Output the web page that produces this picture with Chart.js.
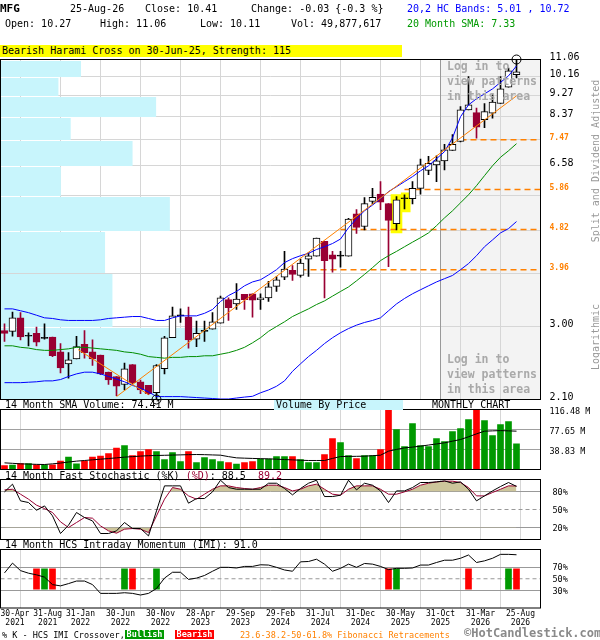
<!DOCTYPE html>
<html><head><meta charset="utf-8">
<script src="https://cdn.jsdelivr.net/npm/chart.js@4.4.1/dist/chart.umd.min.js"></script>
<style>
html,body{margin:0;padding:0;background:#fff;}
#wrap{position:relative;width:600px;height:640px;overflow:hidden;font-family:'DejaVu Sans Mono',monospace;font-size:10px;color:#000;}
.t{position:absolute;white-space:pre;line-height:12px;}
canvas{position:absolute;left:0;}
.login{position:absolute;left:447px;color:#a9a9a9;font-weight:bold;font-size:11.5px;line-height:15px;white-space:pre;}
.rot{position:absolute;color:#999;white-space:pre;transform:translate(-50%,-50%) rotate(-90deg);font-size:10px;}
</style></head><body><div id="wrap">
<canvas id="cMain" width="600" height="410" style="top:0"></canvas>
<canvas id="cVol" width="600" height="80" style="top:400px"></canvas>
<canvas id="cSto" width="600" height="80" style="top:470px"></canvas>
<canvas id="cImi" width="600" height="100" style="top:540px"></canvas>

<div class="t" style="left:0;top:3px;font-weight:bold;font-size:11px">MFG</div>
<div class="t" style="left:70px;top:3px">25-Aug-26</div>
<div class="t" style="left:145px;top:3px">Close: 10.41</div>
<div class="t" style="left:251px;top:3px">Change: -0.03 {-0.3 %}</div>
<div class="t" style="left:407px;top:3px;color:#0000ff">20,2 HC Bands: 5.01 , 10.72</div>
<div class="t" style="left:5px;top:18px">Open: 10.27</div>
<div class="t" style="left:100px;top:18px">High: 11.06</div>
<div class="t" style="left:200px;top:18px">Low: 10.11</div>
<div class="t" style="left:291px;top:18px">Vol: 49,877,617</div>
<div class="t" style="left:407px;top:18px;color:#009900">20 Month SMA: 7.33</div>
<div class="t" style="left:0;top:45px;width:402px;height:12px;background:#ffff00;padding-left:2px;box-sizing:border-box">Bearish Harami Cross on 30-Jun-25, Strength: 115</div>

<div class="login" style="top:59px">Log in to
view patterns
in this area</div>
<div class="login" style="top:352px">Log in to
view patterns
in this area</div>
<div class="rot" style="left:595px;top:161px">Split and Dividend Adjusted</div>
<div class="rot" style="left:595px;top:337px">Logarithmic</div>

<div class="t" style="left:5px;top:399px">14 Month SMA Volume: 74.41 M</div>
<div class="t" style="left:274px;top:400px;width:129px;height:10px;line-height:10px;background:#c8f5fc;padding-left:2px;box-sizing:border-box">Volume By Price</div>
<div class="t" style="left:432px;top:399px">MONTHLY CHART</div>
<div class="t" style="left:5px;top:470px">14 Month Fast Stochastic (%K) <span style="color:#990033">(%D)</span>: 88.5  <span style="color:#990033">89.2</span></div>
<div class="t" style="left:5px;top:539px">14 Month HCS Intraday Momentum (IMI): 91.0</div>

<div class="t" style="left:2px;top:629px;font-size:8.5px">% K - HCS IMI Crossover,</div>
<div class="t" style="left:125px;top:630px;width:39px;height:9px;line-height:9px;background:#009900;color:#fff;font-weight:bold;font-size:8.5px;text-align:center">Bullish</div>
<div class="t" style="left:175px;top:630px;width:39px;height:9px;line-height:9px;background:#ff0000;color:#fff;font-weight:bold;font-size:8.5px;text-align:center">Bearish</div>
<div class="t" style="left:240px;top:629px;font-size:8.5px;color:#ff8000">23.6-38.2-50-61.8% Fibonacci Retracements</div>
<div class="t" style="left:464px;top:626px;font-size:12px;font-weight:bold;color:#8a8a8a;line-height:14px">©HotCandlestick.com</div>
</div>
<script>
// ---------------- data ----------------
const opens  = [2.94,2.93,3.13,2.86,2.90,2.83,2.85,2.65,2.50,2.56, 2.75,2.65,2.61,2.40,2.35,2.26,2.49,2.29,2.25,2.17, 2.44,2.84,3.16,3.14,2.82,2.93,2.96,3.05,3.42,3.35, 3.51,3.52,3.42,3.45,3.65,3.82,3.95,3.85,4.17,4.23, 4.55,4.26,4.23,4.23,5.20,4.89,5.53,5.73,5.47,4.96, 5.60,5.60,5.89,6.43,6.61,6.74,7.09,7.41,8.65,8.53, 8.24,8.51,8.92,9.66,10.27];
const highs  = [3.04,3.22,3.21,2.91,2.99,3.04,2.85,2.76,2.64,2.86, 2.94,2.81,2.61,2.40,2.35,2.51,2.49,2.31,2.25,2.49, 2.86,3.30,3.27,3.30,3.08,3.08,3.21,3.48,3.45,3.70, 3.51,3.52,3.52,3.74,3.83,4.33,4.04,4.17,4.30,4.62, 4.55,4.33,4.33,5.09,5.31,5.63,5.89,6.09,5.47,5.66, 5.71,6.09,6.80,6.89,6.91,7.31,7.66,8.79,10.18,8.72, 8.92,9.31,10.18,10.61,11.06];
const lows   = [2.79,2.86,2.81,2.73,2.73,2.82,2.59,2.39,2.33,2.56, 2.57,2.48,2.37,2.26,2.14,2.20,2.27,2.16,2.15,2.10, 2.38,2.84,3.06,2.70,2.72,2.79,2.96,3.05,3.09,3.26, 3.26,3.14,3.26,3.39,3.56,3.77,3.76,3.82,3.83,4.23, 3.45,3.91,4.01,4.23,4.73,4.81,5.46,5.31,4.02,4.81, 5.33,5.46,5.73,6.30,6.09,6.45,7.09,7.39,8.65,7.53, 7.93,8.30,8.92,9.66,10.11];
const closes = [2.90,3.13,2.85,2.86,2.78,2.84,2.60,2.45,2.55,2.72, 2.64,2.56,2.38,2.31,2.24,2.44,2.28,2.20,2.16,2.48, 2.84,3.16,3.16,2.81,2.90,2.94,3.07,3.45,3.29,3.43, 3.42,3.41,3.45,3.64,3.77,3.97,3.87,4.09,4.24,4.62, 4.14,4.17,4.23,5.07,4.87,5.47,5.64,5.51,5.04,5.57, 5.60,5.89,6.61,6.66,6.74,7.11,7.31,8.65,8.86,7.95, 8.57,8.98,9.58,10.47,10.41];
const upperBand = [3.27,3.27,3.24,3.21,3.17,3.13,3.12,3.10,3.09,3.09, 3.09,3.09,3.10,3.12,3.13,3.14,3.15,3.15,3.12,3.09, 3.09,3.13,3.16,3.16,3.16,3.20,3.26,3.39,3.49,3.56, 3.66,3.73,3.77,3.86,3.96,4.10,4.18,4.24,4.29,4.37, 4.43,4.50,4.60,4.86,5.08,5.28,5.43,5.60,5.80,5.94, 6.09,6.24,6.42,6.58,6.81,7.05,7.54,8.36,8.86,9.13, 9.35,9.58,9.89,10.21,10.72];
const lowerBand = [2.28,2.28,2.28,2.285,2.29,2.30,2.30,2.315,2.35,2.38, 2.40,2.40,2.38,2.35,2.32,2.29,2.25,2.22,2.18,2.13, 2.13,2.13,2.13,2.125,2.12,2.115,2.11,2.105,2.105,2.115, 2.125,2.133,2.17,2.20,2.24,2.30,2.41,2.50,2.59,2.67, 2.76,2.84,2.91,2.97,3.02,3.06,3.09,3.13,3.24,3.35, 3.44,3.52,3.59,3.66,3.73,3.79,3.85,3.96,4.08,4.24, 4.43,4.58,4.74,4.84,5.01];
const sma20 = [2.73,2.73,2.71,2.70,2.68,2.67,2.67,2.68,2.69,2.71, 2.71,2.70,2.69,2.68,2.67,2.65,2.64,2.62,2.59,2.58, 2.57,2.58,2.58,2.59,2.59,2.60,2.60,2.62,2.64,2.67, 2.71,2.77,2.84,2.93,3.00,3.07,3.15,3.21,3.27,3.34, 3.40,3.48,3.56,3.64,3.75,3.87,4.00,4.14,4.24,4.33, 4.43,4.53,4.63,4.74,4.91,5.10,5.28,5.49,5.71,5.97, 6.27,6.58,6.86,7.08,7.33];
const volumes = [7.8,8.4,11.6,11.6,9.1,9.1,9.1,16.2,23.9,11.0, 16.2,23.9,25.9,31.0,41.4,46.6,27.2,34.9,38.8,34.9, 19.4,33.0,15.5,34.9,13.6,23.3,19.4,15.5,13.6,10.4, 13.6,15.5,20.0,20.0,25.2,25.2,25.2,19.4,13.6,13.6, 29.1,60.2,52.4,27.2,21.4,27.2,27.2,38.8,116.48,77.6, 44.6,89.3,46.6,44.6,60.2,54.3,73.8,79.6,97.0,116.0, 95.1,66.0,87.3,93.2,49.9];
const volSma = [12.9,12.0,11.0,10.5,10.0,9.7,11.0,12.5,14.5,16.2, 17.5,18.8,20.0,21.3,22.6,24.0,25.0,26.0,26.8,27.2, 27.6,28.0,28.4,28.8,29.1,28.8,28.3,27.8,25.0,22.6, 22.0,21.5,21.0,20.7,20.0,19.3,18.7,18.0,17.5,17.5, 17.5,21.5,25.2,25.4,25.6,25.9,26.8,27.8,35.6,39.0, 42.0,43.5,45.3,47.5,49.6,51.8,55.0,58.2,63.5,69.2, 74.4,75.0,75.5,75.0,74.41];
const stochK = [79.4,92.2,64.4,61.6,48.8,56.0,39.4,10.0,23.8,45.0, 36.6,31.0,10.0,10.0,14.4,28.3,18.3,18.3,6.0,47.7, 89.4,89.4,89.4,60.5,68.3,68.3,79.4,98.8,86.6,83.8, 83.8,83.8,83.8,93.8,93.8,85.0,74.4,85.0,93.8,98.8, 71.6,71.6,73.8,98.8,82.7,93.8,90.5,81.0,61.6,81.0, 81.0,86.6,95.0,95.0,96.0,97.7,93.8,96.0,83.8,64.4, 72.7,81.0,88.3,95.0,88.5];
const stochD = [82.7,83.8,75.5,67.2,57.2,51.6,45.0,29.4,20.0,28.3, 36.6,35.5,22.7,14.4,10.5,17.2,18.3,17.2,11.6,39.4, 67.2,86.6,83.8,72.7,67.2,75.5,83.8,89.4,89.4,86.6, 85.0,83.8,86.6,90.5,90.5,86.6,81.0,83.8,89.4,92.2, 83.8,75.5,73.8,83.8,89.4,89.4,89.4,83.8,75.5,75.5, 79.4,83.8,90.5,93.8,96.0,97.2,97.2,95.0,86.6,72.7, 72.7,78.3,83.8,89.4,89.2];
const imi = [60.0,76.7,63.9,59.5,56.7,52.8,40.0,37.8,41.7,46.1, 46.1,40.0,25.0,25.0,25.0,26.1,25.0,22.2,25.0,33.3, 51.1,61.1,61.1,48.9,51.1,55.6,62.8,69.5,69.5,68.4, 71.1,71.1,73.9,73.4,69.5,65.0,62.8,78.9,79.5,83.4, 75.0,62.8,67.8,75.0,69.5,76.1,75.0,71.1,65.6,67.8, 67.8,68.4,73.4,73.4,77.8,81.7,81.7,85.0,90.6,77.8, 80.6,85.0,91.7,91.7,91.0];
const bullishIdx = [5,15,19,49,63];
const bearishIdx = [4,6,16,48,58,64];
const crossRange = [32,67];
const patternIdx = [49,50];
const fibLevels = [7.47,5.86,4.82,3.96];
const fibStart  = [57,50,42,37];
const trendUpX = [14,64],  trendUpY = [2.13,9.26];
const trendDnX = [9.2,18], trendDnY = [2.68,2.15];
const priceGrid   = [11.06,10.16,9.27,8.37,7.47,6.58,5.68,4.79,3.89,3.00,2.10];
const priceLabels = ['11.06','10.16','9.27','8.37','7.47','6.58','','','','3.00','2.10'];
const vbpVolume = [114,68,267,93,219,73,295,163,178,393]; // per price bin, top to bottom
const volTicks = [38.83,77.65,116.48];
const stoTicks = [20,50,80];
const imiTicks = [30,50,70];
const gridX = [4.5,9.5,14.5,19.5,24.5,29.5,34.5,39.5,44.5,49.5,54.5,59.5,64.5];
const labelX = [-0.5].concat(gridX);
const xTickLabels = [['      30-Apr','      2021'],['   31-Aug','   2021'],['31-Jan','2022'],['30-Jun','2022'],['30-Nov','2022'],['28-Apr','2023'],['29-Sep','2023'],['29-Feb','2024'],['31-Jul','2024'],['31-Dec','2024'],['30-May','2025'],['31-Oct','2025'],['31-Mar','2026'],['25-Aug','2026']];
const loginStart = 54.5;

// ---------------- helpers ----------------
const FONT = "'DejaVu Sans Mono', monospace";
const MAROON = '#990033';
Chart.defaults.font.family = FONT;
const idx = opens.map((_, i) => i);
const up = i => closes[i] >= opens[i];
const doji = i => Math.abs(closes[i] - opens[i]) / opens[i] < 0.004;
const pts = arr => arr.map((v, i) => ({x: i, y: v}));
const XMIN = -0.5, XMAX = 67;

function xScale(extra) {
  return Object.assign({
    type: 'linear', min: XMIN, max: XMAX, offset: false, position: 'bottom',
    afterBuildTicks: s => { s.ticks = gridX.map(v => ({value: v})); },
    afterFit: s => { s.height = 0; s.paddingLeft = 0; s.paddingRight = 0; },
    ticks: {display: false},
    grid: {color: '#d6d6d6', drawTicks: false, lineWidth: 1},
    border: {display: false}
  }, extra || {});
}
function yRight(extra) {
  return Object.assign({
    position: 'right',
    afterFit: s => { s.width = 59.5; s.paddingTop = 0; s.paddingBottom = 0; },
    border: {display: false}
  }, extra);
}
const frame = {id: 'frame', afterDraw(c) {
  const a = c.chartArea, ctx = c.ctx;
  ctx.save(); ctx.strokeStyle = '#000'; ctx.lineWidth = 1;
  ctx.strokeRect(a.left, a.top, a.right - a.left, a.bottom - a.top);
  ctx.restore();
}};
const baseOpts = {
  responsive: false, animation: false, devicePixelRatio: 1, events: [],
  plugins: {legend: {display: false}, tooltip: {enabled: false}}
};
function pad(top, bottom) {
  return {autoPadding: false, padding: {left: 0.5, top: top, bottom: bottom, right: 0}};
}
function hline(v, color) {
  return {type: 'line', data: [{x: XMIN, y: v}, {x: XMAX, y: v}], borderColor: color || '#999',
    borderWidth: 1, borderDash: [4, 3], pointRadius: 0, order: 8};
}

// ---------------- main price chart ----------------
const mainDeco = {id: 'mainDeco',
  beforeDraw(c) {
    const a = c.chartArea, ctx = c.ctx, gx = c.scales.x.getPixelForValue(loginStart);
    ctx.save(); ctx.fillStyle = '#f3f3f3';
    ctx.fillRect(gx, a.top, a.right - gx, a.bottom - a.top); ctx.restore();
  },
  beforeDatasetsDraw(c) {
    const a = c.chartArea, ctx = c.ctx, ys = c.scales.y, xv = c.scales.xv, xs = c.scales.x;
    ctx.save();
    ctx.fillStyle = '#c8f5fc';
    for (let j = 0; j < vbpVolume.length; j++) {
      const yT = ys.getPixelForValue(priceGrid[j]), yB = ys.getPixelForValue(priceGrid[j + 1]);
      const x1 = xv.getPixelForValue(vbpVolume[j]);
      ctx.fillRect(a.left, Math.round(yT) + 1, x1 - a.left, Math.round(yB) - Math.round(yT) - 1);
    }
    const gx = xs.getPixelForValue(loginStart);
    ctx.strokeStyle = '#999'; ctx.lineWidth = 1;
    ctx.beginPath(); ctx.moveTo(gx, a.top); ctx.lineTo(gx, a.bottom); ctx.stroke();
    ctx.restore();
  }
};
const iMax = highs.indexOf(Math.max(...highs));
const iMin = lows.indexOf(Math.min(...lows));
const mainDatasets = [
  {type: 'line', data: [{x: iMax, y: highs[iMax]}, {x: iMin, y: lows[iMin]}], showLine: false,
   pointRadius: 4.5, pointBorderColor: '#000', pointBackgroundColor: 'rgba(0,0,0,0)', pointBorderWidth: 1, clip: false, order: 0},
  {type: 'line', data: trendUpX.map((x, k) => ({x, y: trendUpY[k]})), borderColor: '#ff8000', borderWidth: 1, pointRadius: 0, order: 1},
  {type: 'line', data: trendDnX.map((x, k) => ({x, y: trendDnY[k]})), borderColor: '#ff8000', borderWidth: 1, pointRadius: 0, order: 1},
  {type: 'line', data: pts(upperBand), borderColor: '#0000ff', borderWidth: 1, pointRadius: 0, order: 2},
  {type: 'line', data: pts(lowerBand), borderColor: '#0000ff', borderWidth: 1, pointRadius: 0, order: 2},
  {type: 'line', data: pts(sma20), borderColor: '#008c00', borderWidth: 1, pointRadius: 0, order: 2},
  {type: 'bar', data: idx.map(i => ({x: i, y: [Math.min(opens[i], closes[i]), Math.max(opens[i], closes[i])]})),
   backgroundColor: idx.map(i => up(i) ? (doji(i) ? '#000' : '#fff') : MAROON),
   borderColor: idx.map(i => up(i) ? '#000' : MAROON), borderWidth: 1, borderSkipped: false,
   barThickness: 7, minBarLength: 1, grouped: false, order: 3},
  {type: 'bar', data: idx.map(i => ({x: i, y: [lows[i], highs[i]]})),
   backgroundColor: idx.map(i => up(i) ? '#000' : MAROON), borderWidth: 0,
   barThickness: 1, grouped: false, order: 4},
];
fibLevels.forEach((lv, j) => mainDatasets.push({type: 'line',
  data: [{x: fibStart[j], y: lv}, {x: XMAX, y: lv}], borderColor: '#ff8000', borderWidth: 1.5,
  borderDash: [6, 4], pointRadius: 0, order: 6}));
mainDatasets.push({type: 'bar', data: [{x: patternIdx[0], y: [lows[patternIdx[0]] * 0.985, highs[patternIdx[0]] * 1.01]}],
  backgroundColor: '#ffff00', barThickness: 11, grouped: false, order: 9});
mainDatasets.push({type: 'bar', data: [{x: patternIdx[1] + 0.15, y: [lows[patternIdx[1]] * 0.985, highs[patternIdx[1]] * 1.01]}],
  backgroundColor: '#ffff00', barThickness: 9, grouped: false, order: 10});

const allPriceTicks = priceGrid.concat(fibLevels.filter(v => !priceGrid.includes(v)));
new Chart(document.getElementById('cMain'), {
  type: 'bar',
  data: {datasets: mainDatasets},
  options: Object.assign({}, baseOpts, {
    layout: pad(59.5, 10.5),
    scales: {
      x: xScale(),
      xv: {type: 'linear', min: 0, max: 1000, position: 'top', ticks: {display: false},
           grid: {display: false}, border: {display: false}, afterFit: s => { s.height = 0; s.paddingLeft = 0; s.paddingRight = 0; }},
      y: yRight({
        type: 'logarithmic', min: 2.10, max: 11.06,
        afterBuildTicks: s => { s.ticks = allPriceTicks.map(v => ({value: v})); },
        ticks: {autoSkip: false, padding: 9, labelOffset: -2,
          callback: v => priceGrid.includes(v) ? priceLabels[priceGrid.indexOf(v)] : v.toFixed(2),
          color: ctx => fibLevels.includes(ctx.tick.value) ? '#ff8000' : '#000',
          font: ctx => fibLevels.includes(ctx.tick.value) ? {family: FONT, size: 8, weight: 'bold'} : {family: FONT, size: 10}},
        grid: {drawTicks: false, color: ctx => (ctx.tick && priceGrid.includes(ctx.tick.value)) ? '#d6d6d6' : 'rgba(0,0,0,0)'}
      })
    }
  }),
  plugins: [mainDeco, frame]
});

// ---------------- volume chart ----------------
new Chart(document.getElementById('cVol'), {
  type: 'bar',
  data: {datasets: [
    {type: 'line', data: pts(volSma), borderColor: '#000', borderWidth: 1, pointRadius: 0, order: 0},
    {type: 'bar', data: pts(volumes), backgroundColor: idx.map(i => up(i) ? '#009900' : '#ff0000'),
     barThickness: 6, grouped: false, order: 1}
  ]},
  options: Object.assign({}, baseOpts, {
    layout: pad(9.5, 10.5),
    scales: {
      x: xScale(),
      y: yRight({type: 'linear', min: 0, max: 116.48,
        afterBuildTicks: s => { s.ticks = volTicks.map(v => ({value: v})); },
        ticks: {autoSkip: false, padding: 9, labelOffset: 2, color: '#000', font: {family: FONT, size: 8.5},
          callback: v => v.toFixed(2) + ' M'},
        grid: {drawTicks: false, color: ctx => (ctx.tick && ctx.tick.value < 100) ? '#a0a0a0' : 'rgba(0,0,0,0)'}
      })
    }
  }),
  plugins: [frame]
});

// ---------------- stochastic chart ----------------
const TAN = '#cdc59b';
new Chart(document.getElementById('cSto'), {
  type: 'line',
  data: {datasets: [
    {data: pts(stochK), borderColor: '#000', borderWidth: 1, pointRadius: 0, order: 0},
    {data: pts(stochD), borderColor: MAROON, borderWidth: 1, pointRadius: 0, order: 1},
    {data: pts(stochD), borderWidth: 0, borderColor: 'rgba(0,0,0,0)', pointRadius: 0, order: 5,
     fill: {target: {value: 80}, above: TAN, below: 'rgba(0,0,0,0)'}},
    {data: pts(stochD), borderWidth: 0, borderColor: 'rgba(0,0,0,0)', pointRadius: 0, order: 5,
     fill: {target: {value: 20}, above: 'rgba(0,0,0,0)', below: TAN}},
    hline(50)
  ]},
  options: Object.assign({}, baseOpts, {
    layout: pad(9.5, 10.5),
    scales: {
      x: xScale(),
      y: yRight({type: 'linear', min: 0, max: 100,
        afterBuildTicks: s => { s.ticks = stoTicks.map(v => ({value: v})); },
        ticks: {autoSkip: false, padding: 12, labelOffset: 1, color: '#000', font: {family: FONT, size: 8.5},
          callback: v => v + '%'},
        grid: {drawTicks: false, color: ctx => (ctx.tick && ctx.tick.value !== 50) ? '#999' : 'rgba(0,0,0,0)'}
      })
    }
  }),
  plugins: [frame]
});

// ---------------- IMI chart ----------------
new Chart(document.getElementById('cImi'), {
  type: 'bar',
  data: {datasets: [
    {type: 'line', data: pts(imi), borderColor: '#000', borderWidth: 1, pointRadius: 0, order: 0},
    {type: 'bar', data: bullishIdx.map(i => ({x: i, y: crossRange})), backgroundColor: '#009900', barThickness: 6, grouped: false, order: 1},
    {type: 'bar', data: bearishIdx.map(i => ({x: i, y: crossRange})), backgroundColor: '#ff0000', barThickness: 6, grouped: false, order: 1},
    hline(50)
  ]},
  options: Object.assign({}, baseOpts, {
    layout: pad(9.5, 9.5),
    scales: {
      x: xScale({
        afterBuildTicks: s => { s.ticks = labelX.map(v => ({value: v})); },
        afterFit: s => { s.height = 22.5; s.paddingLeft = 0; s.paddingRight = 0; },
        ticks: {display: true, autoSkip: false, maxRotation: 0, minRotation: 0, padding: 2, color: '#000',
          font: {family: FONT, size: 8, lineHeight: 1.06}, callback: (v, k) => xTickLabels[k]}
      }),
      y: yRight({type: 'linear', min: 0, max: 100,
        afterBuildTicks: s => { s.ticks = imiTicks.map(v => ({value: v})); },
        ticks: {autoSkip: false, padding: 12, labelOffset: 1, color: '#000', font: {family: FONT, size: 8.5},
          callback: v => v + '%'},
        grid: {drawTicks: false, color: ctx => (ctx.tick && ctx.tick.value !== 50) ? '#999' : 'rgba(0,0,0,0)'}
      })
    }
  }),
  plugins: [frame]
});
</script>
</body></html>
